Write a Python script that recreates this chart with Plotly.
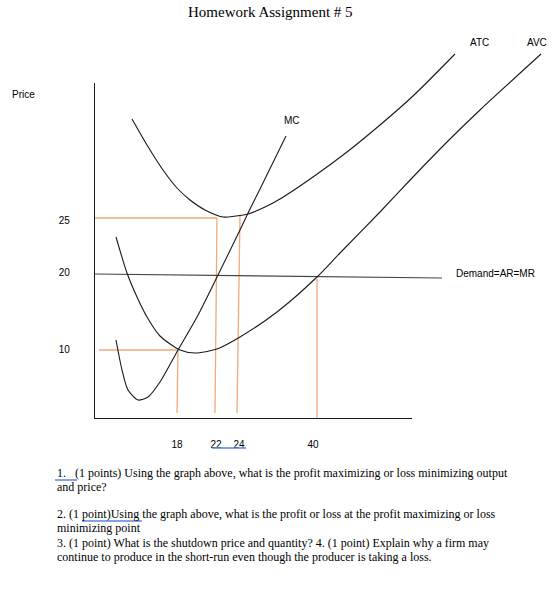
import plotly.graph_objects as go

# ---------------- data (chart units: horizontal = quantity axis units, vertical = price axis units) ----------------
atc_q = [37, 52, 68, 82, 95, 110, 128, 141, 153, 170, 185, 218, 252, 285, 318, 360]
atc_p = [299, 273, 248, 230, 218, 208, 201, 202, 204, 211, 219, 241, 266, 293, 322, 364]

avc_q = [21, 32, 42, 52, 65, 85, 100, 122, 145, 182, 222, 245, 285, 318, 352, 385, 446]
avc_p = [181, 145, 121, 101, 82, 68, 65, 69, 81, 106, 141, 165, 206, 241, 276, 308, 364]

mc_q = [21, 27, 33, 43, 53, 65, 83, 102, 123, 145, 155, 165, 191]
mc_p = [78, 48, 28, 18, 21, 36, 68, 101, 143, 188, 209, 229, 282]

demand_q = [0, 347]
demand_p = [144, 140]

# guide levels (where the orange guide lines sit)
p25, p20, p10 = 200, 144, 68
q18, q22, q24, q40 = 82, 122, 142, 222

y_tick_vals = [198, 146, 69]
y_tick_text = ["25", "20", "10"]
x_tick_vals = [82, 121, 144, 218]
x_tick_text = ["18", "22", "24", "40"]

curve_labels = [("ATC", 384, 376), ("AVC", 442, 376), ("MC", 197, 298), ("Demand=AR=MR", 359, 145)]

questions = [
    "1.\u00a0\u00a0\u00a0(1 points) Using the graph above, what is the profit maximizing or loss minimizing output",
    "and price?",
    "",
    "2. (1 point)Using the graph above, what is the profit or loss at the profit maximizing or loss",
    "minimizing point",
    "3. (1 point) What is the shutdown price and quantity? 4. (1 point) Explain why a firm may",
    "continue to produce in the short-run even though the producer is taking a loss.",
]

# ---------------- figure ----------------
W, H = 560, 591
BLACK = "#1a1a1a"
ORANGE = "#F4A878"
SANS = "Liberation Sans, Arial, sans-serif"
SERIF = "Liberation Serif, Times New Roman, serif"
LBL = 10
TXT = "#000000"

fig = go.Figure()

# orange guide lines
g_q = [0, q22, None, q22, q22 - 2, None, q24 + 3, q24, None,
       4, q18 + 1, None, q18 + 1, q18, None, q40, q40]
g_p = [p25, p25, None, p25, 5, None, p25 + 3, 5, None,
       p10, p10, None, p10, 5, None, p20 - 5, 0]
fig.add_trace(go.Scatter(x=g_q, y=g_p, mode="lines", line=dict(color=ORANGE, width=1.3),
                         xaxis="x2", yaxis="y2", hoverinfo="skip", showlegend=False))

# demand
fig.add_trace(go.Scatter(x=demand_q, y=demand_p, mode="lines", line=dict(color="#444444", width=1.2),
                         xaxis="x2", yaxis="y2", showlegend=False))

for q, p in [(atc_q, atc_p), (avc_q, avc_p), (mc_q, mc_p)]:
    fig.add_trace(go.Scatter(x=q, y=p, mode="lines",
                             line=dict(color=BLACK, width=1.1, shape="spline", smoothing=0.7),
                             xaxis="x2", yaxis="y2", showlegend=False))

# frame subplot anchor trace
fig.add_trace(go.Scatter(x=[None], y=[None], xaxis="x", yaxis="y", showlegend=False))

fig.update_layout(
    width=W, height=H,
    margin=dict(l=0, r=0, t=0, b=0),
    paper_bgcolor="white", plot_bgcolor="rgba(0,0,0,0)",
    showlegend=False,
    xaxis=dict(domain=[95 / W, 412 / W], range=[0, 317], anchor="y",
               showline=True, linecolor=BLACK, linewidth=1.3, showgrid=False, zeroline=False,
               tickvals=x_tick_vals, ticktext=x_tick_text, ticks="", ticklabelstandoff=17,
               tickfont=dict(family=SANS, size=LBL, color=TXT)),
    yaxis=dict(domain=[173 / H, 508 / H], range=[0, 335], anchor="x",
               showline=True, linecolor=BLACK, linewidth=1.3, showgrid=False, zeroline=False,
               tickvals=y_tick_vals, ticktext=y_tick_text, ticks="", ticklabelstandoff=22,
               tickfont=dict(family=SANS, size=LBL, color=TXT)),
    xaxis2=dict(domain=[0, 1], range=[-95, 465], anchor="y2", visible=False),
    yaxis2=dict(domain=[0, 1], range=[-173, 418], anchor="x2", visible=False),
)

ann = []
for txt, q, p in curve_labels:
    ann.append(dict(x=q, y=p, xref="x2", yref="y2", text=txt, showarrow=False,
                    xanchor="center" if txt != "Demand=AR=MR" else "left", yanchor="middle",
                    font=dict(family=SANS, size=LBL, color=TXT)))

# title and page text (pixel positions on the page)
def px(x, y):
    return x / W, 1 - y / H

tx, ty = px(270, 12)
ann.append(dict(x=tx, y=ty, xref="paper", yref="paper", text="Homework Assignment # 5", showarrow=False,
                xanchor="center", yanchor="middle", font=dict(family=SERIF, size=15, color=TXT)))
tx, ty = px(10, 94)
ann.append(dict(x=tx, y=ty, xref="paper", yref="paper", text="Price", showarrow=False,
                xanchor="left", yanchor="middle", font=dict(family=SANS, size=LBL, color=TXT)))

line_y = [473, 487, 500, 514, 528, 543, 557]
for txt, yy in zip(questions, line_y):
    if not txt:
        continue
    tx, ty = px(55, yy)
    ann.append(dict(x=tx, y=ty, xref="paper", yref="paper", text=txt, showarrow=False,
                    xanchor="left", yanchor="middle", font=dict(family=SERIF, size=12, color=TXT)))
fig.update_layout(annotations=ann)

# spell-check underlines
BLUE = "#5B86D6"
shapes = []
for x0, x1, yy in [(212, 246, 448), (55, 77, 480), (82, 142, 521)]:
    a0, b = px(x0, yy)
    a1, _ = px(x1, yy)
    shapes.append(dict(type="line", xref="paper", yref="paper", x0=a0, x1=a1, y0=b, y1=b,
                       line=dict(color=BLUE, width=1.5)))
fig.update_layout(shapes=shapes)

fig.write_html("out.html")
